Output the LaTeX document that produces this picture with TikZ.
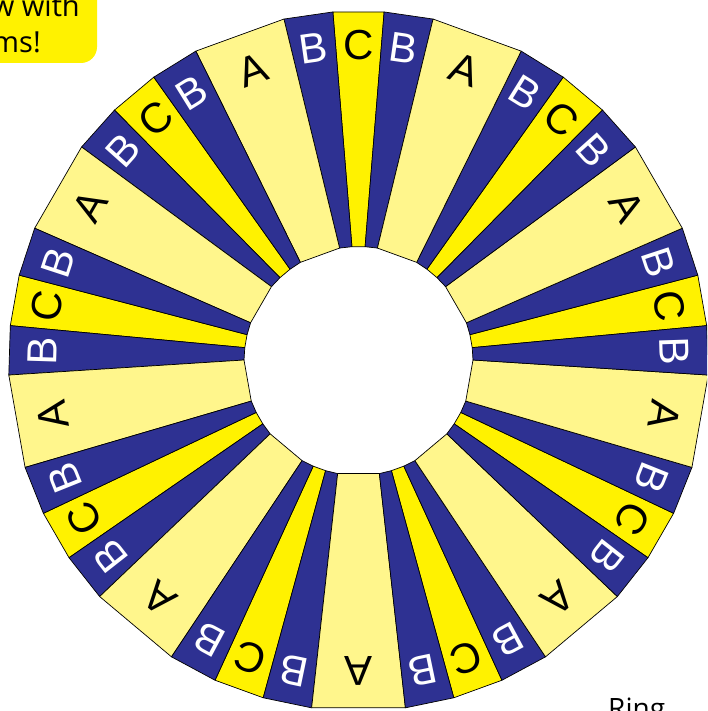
\documentclass[tikz,border=0pt]{standalone}
\usepackage{fontspec}
\setmainfont{Liberation Sans}
\newfontfamily\notefont{Open Sans}
\definecolor{dblue}{HTML}{2E3192}
\definecolor{yel}{HTML}{FFF200}
\definecolor{lyel}{HTML}{FFF68C}
\tikzset{
  seg/.style={draw=black,line width=0.7pt,line join=round},
  segA/.style={seg,fill=lyel},
  segB/.style={seg,fill=dblue},
  segC/.style={seg,fill=yel},
  lett/.style={inner sep=0pt,font=\fontsize{42}{44}\selectfont},
  note/.style={inner sep=0pt,font=\notefont\fontsize{29}{34}\selectfont}
}
\begin{document}
\begin{tikzpicture}[x=1pt,y=1pt]
\useasboundingbox (0,0) rectangle (707,-711);
\clip (0,0) rectangle (707,-711);
\coordinate (c) at (358.5,-361);
\def\Ro{350}
\def\Ri{114.5}
\begin{scope}[shift={(c)}]
\foreach \g in {0,...,8}{
  \pgfmathsetmacro\a{90+40*\g}
  % C
  \path[segC] ({\a-3.3}:\Ri) -- ({\a-4.2}:\Ro) -- ({\a+4.2}:\Ro) -- ({\a+3.3}:\Ri) -- cycle;
  % B (ccw side)
  \path[segB] ({\a+3.3}:\Ri) -- ({\a+4.2}:\Ro) -- ({\a+12.3}:\Ro) -- ({\a+9.5}:\Ri) -- cycle;
  % B (cw side)
  \path[segB] ({\a-3.3}:\Ri) -- ({\a-4.2}:\Ro) -- ({\a-12.3}:\Ro) -- ({\a-9.5}:\Ri) -- cycle;
  % A
  \path[segA] ({\a+9.5}:\Ri) -- ({\a+12.3}:\Ro) -- ({\a+27.7}:\Ro) -- ({\a+30.5}:\Ri) -- cycle;
  % letters
  \node[lett,rotate={\a-90}] (C\g) at (\a:316) {C};
  \node[lett,text=white,rotate={\a-90+8.2}] (Bl\g) at ({\a+8.2}:316) {B};
  \node[lett,text=white,rotate={\a-90-8.2}] (Br\g) at ({\a-8.2}:316) {B};
  \node[lett,rotate={\a-90+20}] (A\g) at ({\a+20}:310) {A};
}
\end{scope}
% note box top left
\path[fill=yel,rounded corners=16pt] (-150,30) rectangle (97,-63);
\node[note,anchor=base east] (n1) at (80,-17) {w with};
\node[note,anchor=base east] (n2) at (41,-53) {ms!};
% caption bottom right
\node[note,anchor=base west,font=\notefont\fontsize{28}{32}\selectfont] (ring) at (608,-718) {Ring};
\end{tikzpicture}
\end{document}
